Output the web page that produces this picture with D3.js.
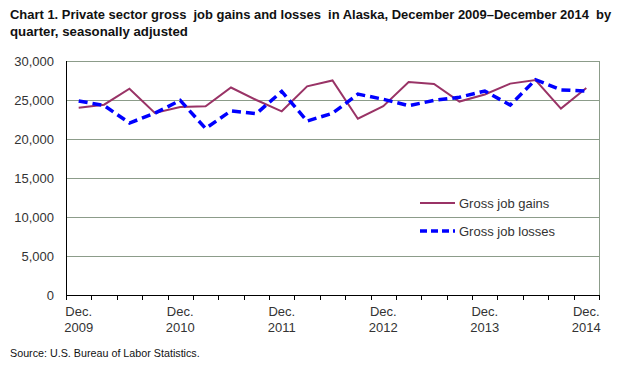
<!DOCTYPE html>
<html><head><meta charset="utf-8">
<script src="https://cdn.jsdelivr.net/npm/d3@7"></script>
<style>body{margin:0;background:#fff}svg{display:block}</style>
</head><body>
<svg id="c" width="623" height="365"></svg>
<script>
const quarters = ["Dec. 2009","Mar. 2010","Jun. 2010","Sep. 2010","Dec. 2010","Mar. 2011","Jun. 2011","Sep. 2011","Dec. 2011","Mar. 2012","Jun. 2012","Sep. 2012","Dec. 2012","Mar. 2013","Jun. 2013","Sep. 2013","Dec. 2013","Mar. 2014","Jun. 2014","Sep. 2014","Dec. 2014"];
const gains = [24000,24400,26450,23330,24100,24200,26600,25000,23550,26750,27500,22600,24200,27300,27050,24800,25700,27100,27550,23900,26550];
const losses = [24870,24300,22050,23300,24950,21350,23600,23250,26100,22300,23300,25750,25100,24270,24950,25350,26150,24350,27600,26300,26150];
const yTicks = [0,5000,10000,15000,20000,25000,30000];
const titleLines = ["Chart 1. Private sector gross  job gains and losses  in Alaska, December 2009\u2013December 2014  by","quarter, seasonally adjusted"];
const sourceText = "Source: U.S. Bureau of Labor Statistics.";
const seriesNames = ["Gross job gains","Gross job losses"];

const svg = d3.select("#c");
const L = 66, R = 599, T = 61, B = 295;
const x = d3.scaleBand().domain(quarters).range([L, R]);
const y = d3.scaleLinear().domain([0,30000]).range([B, T]);
const font = "'Liberation Sans', Arial, sans-serif";
const narrow = "'Liberation Sans Narrow', 'Arial Narrow', 'Liberation Sans', Arial, sans-serif";

// title: fit each line horizontally to the reference width
function fitText(str, xPos, yPos, width, size, weight){
  const t = svg.append("text").attr("font-family",narrow).attr("font-weight",weight)
    .attr("font-size",size).attr("fill","#111").attr("x",0).attr("y",0).style("white-space","pre").text(str);
  const w = t.node().getComputedTextLength();
  t.attr("transform",`translate(${xPos},${yPos}) scale(${width/w},1)`);
  return t;
}
fitText(titleLines[0],10,19,602,13.5,"bold");
fitText(titleLines[1],10,36,178,13.5,"bold");

// gridlines
svg.append("g").selectAll("line").data(yTicks.filter(d=>d>0)).join("line")
  .attr("x1",L).attr("x2",R).attr("y1",d=>y(d)+0.5).attr("y2",d=>y(d)+0.5)
  .attr("stroke","#8c9c8a").attr("stroke-width",1);
svg.append("line").attr("x1",R+0.5).attr("x2",R+0.5).attr("y1",T).attr("y2",B).attr("stroke","#8c9c8a");

// y labels
svg.append("g").selectAll("text").data(yTicks).join("text")
  .attr("x",54).attr("y",d=>y(d)+4.5).attr("text-anchor","end")
  .attr("font-family",font).attr("font-size",13).attr("fill","#333")
  .text(d=>d3.format(",")(d));

// x axis
svg.append("line").attr("x1",L).attr("x2",R).attr("y1",B+0.5).attr("y2",B+0.5).attr("stroke","#000");
svg.append("line").attr("x1",L+0.5).attr("x2",L+0.5).attr("y1",T).attr("y2",B+5).attr("stroke","#000");
const bounds = quarters.map(q=>x(q)).concat([R]);
svg.append("g").selectAll("line").data(bounds).join("line")
  .attr("x1",d=>Math.round(d)+0.5).attr("x2",d=>Math.round(d)+0.5).attr("y1",B).attr("y2",B+5).attr("stroke","#000");

const labelIdx = [0,4,8,12,16,20];
const xl = svg.append("g").selectAll("g").data(labelIdx).join("g")
  .attr("transform",i=>`translate(${x(quarters[i])+x.bandwidth()/2},0)`);
xl.append("text").attr("y",316).attr("text-anchor","middle").attr("font-family",font).attr("font-size",13).attr("fill","#333")
  .text(i=>quarters[i].split(" ")[0]);
xl.append("text").attr("y",332).attr("text-anchor","middle").attr("font-family",font).attr("font-size",13).attr("fill","#333")
  .text(i=>quarters[i].split(" ")[1]);

// lines
const cx = i => x(quarters[i]) + x.bandwidth()/2;
const line = d3.line().x((d,i)=>cx(i)).y(d=>y(d));
svg.append("path").datum(gains).attr("d",line).attr("fill","none").attr("stroke","#993366").attr("stroke-width",2);
svg.append("path").datum(losses).attr("d",line).attr("fill","none").attr("stroke","#0000ff").attr("stroke-width",3.5).attr("stroke-dasharray","9,5");

// legend
const lg = [{n:seriesNames[0],c:"#993366",w:2,d:null,y:203},{n:seriesNames[1],c:"#0000ff",w:3.5,d:"7,4",y:231}];
lg.forEach(o=>{
  svg.append("line").attr("x1",420).attr("x2",455).attr("y1",o.y).attr("y2",o.y).attr("stroke",o.c).attr("stroke-width",o.w).attr("stroke-dasharray",o.d);
  svg.append("text").attr("x",459).attr("y",o.y+4.5).attr("font-family",font).attr("font-size",13).attr("fill","#333").text(o.n);
});

// source
fitText(sourceText,10,357,190,11,"normal");
</script>
</body></html>
